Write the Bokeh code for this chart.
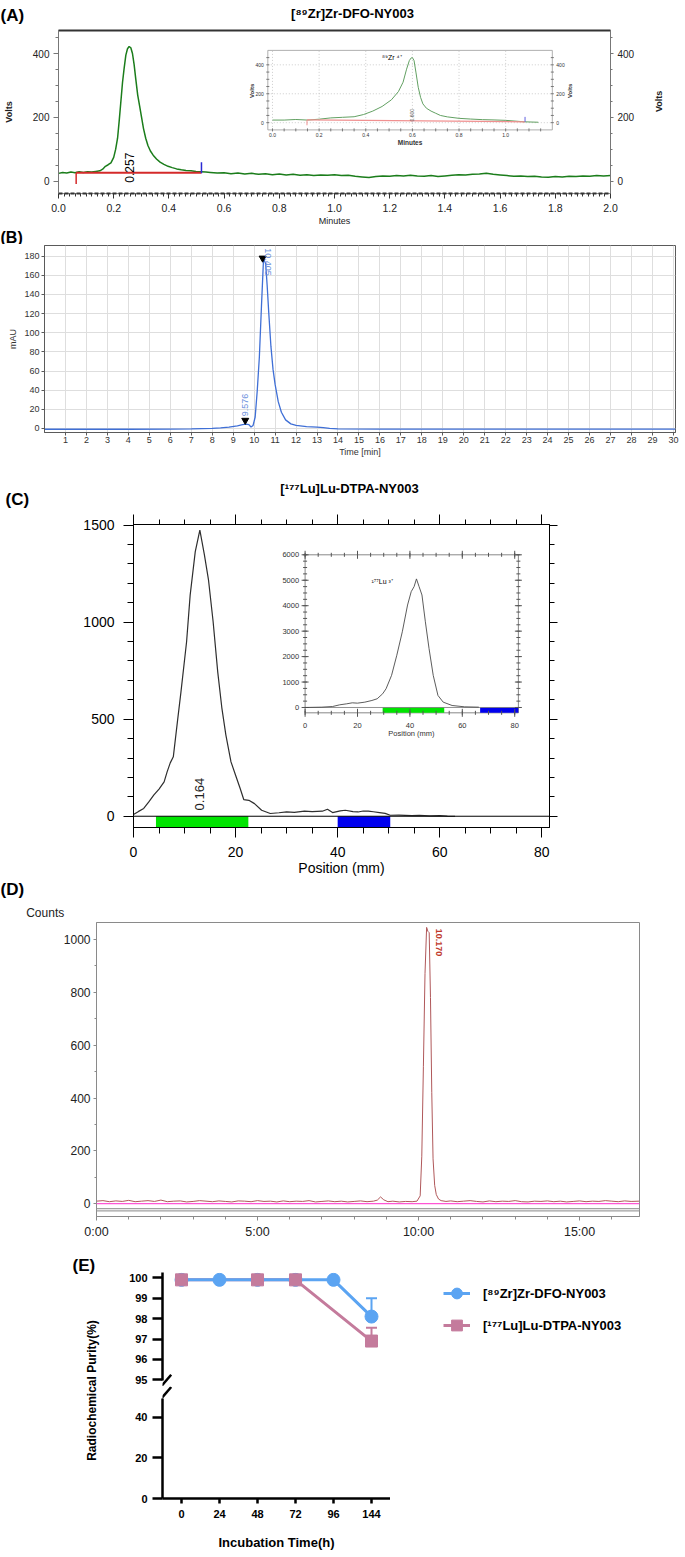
import math
from bokeh.plotting import figure
from bokeh.models import (Range1d, FactorRange, LinearAxis, Label, Span, Legend, LegendItem,
                          FixedTicker, SingleIntervalTicker, NumeralTickFormatter,
                          CustomJSTickFormatter)
from bokeh.layouts import column, row
from bokeh.core.properties import value
from bokeh.embed import file_html
from bokeh.resources import INLINE

# ======================= DATA =======================
# (A) radio-HPLC of [89Zr]Zr-DFO-NY003 (main trace)
a_min = [0.000, 0.015, 0.030, 0.045, 0.060, 0.075, 0.090, 0.105, 0.120, 0.135,
         0.150, 0.160, 0.170, 0.180, 0.190, 0.200, 0.207, 0.214, 0.220, 0.226,
         0.232, 0.238, 0.244, 0.250, 0.256, 0.262, 0.268, 0.274, 0.280, 0.287,
         0.294, 0.301, 0.308, 0.316, 0.324, 0.333, 0.343, 0.355, 0.368, 0.382,
         0.397, 0.412, 0.428, 0.445, 0.462, 0.480, 0.498, 0.516, 0.534,
         0.550, 0.575, 0.600, 0.625, 0.650, 0.675, 0.700, 0.725, 0.750, 0.775,
         0.800, 0.825, 0.850, 0.875, 0.900, 0.925, 0.950, 0.975, 1.000, 1.025,
         1.050, 1.075, 1.100, 1.125, 1.150, 1.175, 1.200, 1.225, 1.250, 1.275,
         1.300, 1.325, 1.350, 1.375, 1.400, 1.425, 1.450, 1.475, 1.500, 1.525,
         1.550, 1.575, 1.600, 1.625, 1.650, 1.675, 1.700, 1.725, 1.750, 1.775,
         1.800, 1.825, 1.850, 1.875, 1.900, 1.925, 1.950, 1.975, 2.000]
a_volts = [25, 28, 26, 29, 27, 30, 28, 30, 29, 31,
           33, 38, 47, 52, 58, 75, 100, 135, 190, 250,
           310, 355, 395, 415, 422, 418, 400, 365, 320, 270,
           235, 200, 165, 135, 112, 95, 82, 70, 60, 53,
           47, 43, 39, 36, 34, 33, 31, 30, 29,
           28, 26, 27, 24, 26, 23, 25, 22, 24, 21,
           23, 20, 22, 19, 21, 18, 20, 19, 21, 18,
           19, 16, 14, 12, 15, 17, 16, 18, 17, 19,
           17, 16, 18, 15, 17, 19, 21, 20, 22, 23,
           25, 22, 20, 18, 16, 17, 15, 16, 14, 13,
           15, 14, 16, 15, 17, 16, 18, 17, 18]
a_peak_pos = 0.259
a_peak_label = "0.257"
a_int_start, a_int_end, a_int_level = 0.064, 0.518, 27

# (A) inset: free 89Zr4+
ai_min = [0.00, 0.05, 0.10, 0.15, 0.20, 0.25, 0.30, 0.35, 0.39, 0.43,
          0.47, 0.51, 0.54, 0.56, 0.575, 0.587, 0.595, 0.600, 0.607, 0.615,
          0.625, 0.635, 0.645, 0.66, 0.68, 0.70, 0.72, 0.75, 0.80, 0.85,
          0.90, 0.95, 1.00, 1.04, 1.08, 1.14]
ai_volts = [18, 18, 22, 18, 24, 33, 37, 41, 56, 80,
            112, 158, 215, 280, 370, 430, 448, 450, 430, 350,
            245, 175, 130, 100, 80, 65, 50, 40, 30, 25,
            21, 19, 16, 11, 6, 3]
ai_peak_pos = 0.600
ai_peak_label = "0.600"
ai_int_start, ai_int_end = 0.148, 1.083
ai_int_levels = (19, 6)
ai_xticks = [0.0, 0.2, 0.4, 0.6, 0.8, 1.0]
ai_xtick_labels = ["0.0", "0.2", "0.4", "0.6", "0.8", "1.0"]
ai_yticks = [0, 200, 400]
ai_ytick_labels = ["0", "200", "400"]

# (B) UV-HPLC
b_min = [0.0, 2.0, 4.0, 6.0, 7.0, 8.0, 8.4, 8.8, 9.2, 9.45,
         9.6, 9.75, 9.85, 9.95, 10.05, 10.15, 10.25, 10.35, 10.45, 10.55,
         10.62, 10.7, 10.8, 10.9, 11.0, 11.15, 11.3, 11.5, 11.75, 12.0,
         12.5, 13.0, 13.3, 13.6, 14.0, 16.0, 20.0, 25.0, 30.1]
b_mau = [-0.8, -0.7, -0.8, -0.7, -0.5, 0.2, 0.7, 1.5, 2.8, 4.0,
         4.6, 4.0, 1.5, 3.2, 12, 40, 75, 128, 178, 172,
         150, 120, 86, 62, 46, 28, 17, 9, 4.8, 3.2,
         2.0, 1.5, 1.0, 0.2, -0.4, -0.6, -0.7, -0.7, -0.7]
b_peak_rt = [9.576, 10.405]
b_peak_h = [8.5, 178]
b_peak_labels = ["9.576", "10.405"]
b_xticks = list(range(1, 31))
b_yticks = [0, 20, 40, 60, 80, 100, 120, 140, 160, 180]

# (C) radio-TLC of [177Lu]Lu-DTPA-NY003
c_mm = [0, 1, 2, 3, 4, 5, 6, 6.6, 7.2, 7.8,
        8.6, 9.3, 10.4, 11.1, 12.1, 13.0, 13.9, 14.7, 15.6, 16.5,
        17.3, 18.1, 19.1, 20.0, 20.9, 21.6, 22.6, 23.7, 25.1, 26.8,
        28.5, 30, 31.5, 33.5, 35, 37, 38, 39, 40.5, 41.5,
        43, 44, 45, 46, 47, 48.2, 49.3, 50.3, 52, 54.5,
        56, 58, 60, 61.5, 63]
c_counts = [9, 25, 40, 74, 110, 140, 177, 230, 275, 306,
            486, 641, 899, 1139, 1363, 1474, 1345, 1216, 1002, 744,
            560, 418, 280, 211, 143, 86, 82, 65, 31, 14,
            18, 22, 20, 26, 24, 26, 36, 19, 28, 31,
            24, 22, 27, 26, 23, 19, 15, 5, 6, 3,
            4, 2, 3, 1, 0]
c_peak_pos = 13.0
c_peak_label = "0.164"
c_strip_lo = [4.4, 40.0]
c_strip_hi = [22.5, 50.3]
c_strip_color = ["#00e400", "#0000ee"]

# (C) inset: free 177Lu3+
ci_mm = [0, 6.4, 10.5, 13.2, 15.9, 18, 20, 22.8, 25.5, 27.5,
         29.6, 30.9, 33, 35, 37.1, 39.1, 40.5, 41.6, 42.5, 43.5,
         44.6, 45.9, 47.3, 48.9, 50.7, 52.7, 56.1, 60.9, 66.3]
ci_counts = [0, 13, 39, 105, 145, 184, 171, 210, 276, 342,
             539, 737, 1263, 2053, 2974, 4026, 4553, 4750, 5053, 4750,
             4421, 3368, 2316, 1263, 474, 211, 79, 26, 13]
ci_strip_lo = [29.6, 66.8]
ci_strip_hi = [53.1, 81.4]
ci_xticks = [0, 20, 40, 60, 80]
ci_xtick_labels = ["0", "20", "40", "60", "80"]
ci_yticks = [0, 1000, 2000, 3000, 4000, 5000, 6000]
ci_ytick_labels = ["0", "1000", "2000", "3000", "4000", "5000", "6000"]

# (D) radio-HPLC of [177Lu]Lu-DTPA-NY003
d_min = [0.0, 0.2, 0.4, 0.6, 0.8, 1.0, 1.2, 1.4, 1.6, 1.8,
         2.0, 2.2, 2.4, 2.6, 2.8, 3.0, 3.2, 3.4, 3.6, 3.8,
         4.0, 4.2, 4.4, 4.6, 4.8, 5.0, 5.2, 5.4, 5.6, 5.8,
         6.0, 6.2, 6.4, 6.6, 6.8, 7.0, 7.2, 7.4, 7.6, 7.8,
         8.0, 8.2, 8.4, 8.6,
         8.72, 8.82, 8.92, 9.05, 9.2, 9.4, 9.6, 9.8, 9.95, 10.05,
         10.1, 10.15, 10.2, 10.25, 10.29, 10.33, 10.37, 10.41, 10.45, 10.5,
         10.55, 10.62, 10.7, 10.85, 11.0,
         11.2, 11.4, 11.6, 11.8, 12.0, 12.2, 12.4, 12.6, 12.8, 13.0,
         13.2, 13.4, 13.6, 13.8, 14.0, 14.2, 14.4, 14.6, 14.8, 15.0,
         15.2, 15.4, 15.6, 15.8, 16.0, 16.2, 16.4, 16.6,
         16.85]
d_counts = [10, 12, 8, 11, 9, 13, 8, 10, 12, 9,
            14, 8, 10, 11, 7, 9, 12, 10, 8, 11,
            9, 7, 11, 10, 8, 12, 9, 10, 7, 11,
            8, 10, 9, 12, 7, 9, 11, 8, 10, 7,
            9, 11, 8, 10,
            14, 26, 15, 8, 10, 7, 9, 8, 10, 30,
            180, 520, 870, 1045, 1030, 1025, 780, 420, 170, 70,
            35, 18, 12, 9, 11,
            8, 10, 12, 9, 7, 11, 8, 10, 9, 12,
            8, 7, 10, 9, 11, 8, 10, 7, 9, 11,
            8, 10, 9, 12, 10, 8, 11, 9,
            10]
d_peak_time = 10.27
d_peak_height = 1040
d_peak_label = "10.170"
d_xticks = [0, 5, 10, 15]
d_xtick_labels = ["0:00", "5:00", "10:00", "15:00"]
d_baseline = 1
d_ref_lines = [-18, -27]

# (E) stability
e_hours = ["0", "24", "48", "72", "96", "144"]
zr_purity = [99.9, 99.9, 99.9, 99.9, 99.9, 98.1]
zr_err = [0, 0, 0, 0, 0, 0.9]
lu_hours = ["0", "48", "72", "144"]
lu_purity = [99.9, 99.9, 99.9, 96.9]
lu_err = [0, 0, 0, 0.65]
e_upper_ticks = [95, 96, 97, 98, 99, 100]
e_lower_ticks = [0, 20, 40]
e_upper_bounds = (94.97, 100.26)
e_lower_bounds = (0, 49.3)
zr_name = "[\u2078\u2079Zr]Zr-DFO-NY003"
lu_name = "[\u00b9\u2077\u2077Lu]Lu-DTPA-NY003"

# ======================= HELPERS =======================
FONT = "Liberation Sans"
W = 685
ZR = "#5ba4f2"
LU = "#c47b9c"


def sub_range(lo, hi, f0, f1):
    span = (hi - lo) / (f1 - f0)
    start = lo - f0 * span
    return Range1d(start=start, end=start + span)


def new_fig(w, h, xr, yr, l, r, t, b, **kw):
    p = figure(width=w, height=h, x_range=xr, y_range=yr,
               min_border_left=l, min_border_right=r, min_border_top=t, min_border_bottom=b,
               toolbar_location=None, output_backend="svg", title=None, **kw)
    p.grid.visible = False
    p.background_fill_color = "white"
    p.border_fill_color = "white"
    return p


def header(w, h):
    p = new_fig(w, h, Range1d(0, 1), Range1d(0, 1), 0, 0, 0, 0,
                x_axis_location=None, y_axis_location=None)
    p.outline_line_color = None
    return p


def style_axis(ax, size, color="#222222", bold=False, tick_out=4, minor_out=2, standoff=4,
               line_color="#222222", line_width=1.0):
    ax.major_label_text_font = FONT
    ax.major_label_text_font_size = f"{size}px"
    ax.major_label_text_color = color
    ax.major_label_text_font_style = "bold" if bold else "normal"
    ax.major_tick_out = tick_out
    ax.major_tick_in = 0
    ax.minor_tick_out = minor_out
    ax.minor_tick_in = 0
    ax.major_label_standoff = standoff
    ax.axis_line_color = line_color
    ax.axis_line_width = line_width
    ax.major_tick_line_color = line_color
    ax.minor_tick_line_color = line_color
    ax.major_tick_line_width = line_width
    ax.minor_tick_line_width = min(line_width, 1.0)


def axis_title(ax, text, size, standoff, bold=False, color="#222222"):
    ax.axis_label = text
    ax.axis_label_text_font = FONT
    ax.axis_label_text_font_size = f"{size}px"
    ax.axis_label_text_font_style = "bold" if bold else "normal"
    ax.axis_label_text_color = color
    ax.axis_label_standoff = standoff


def blank_axis(ticker, tick_out, minor_out, color="#222222", width=1.0):
    ax = LinearAxis(ticker=ticker, formatter=CustomJSTickFormatter(code="return ''"))
    ax.major_tick_out = tick_out
    ax.major_tick_in = 0
    ax.minor_tick_out = minor_out
    ax.minor_tick_in = 0
    ax.major_label_standoff = 0
    ax.major_label_text_font_size = "1px"
    ax.axis_line_color = color
    ax.axis_line_width = width
    ax.major_tick_line_color = color
    ax.minor_tick_line_color = color
    return ax


def put(p, geo, text, lx, ly, size, bold=False, color="black", align="left",
        baseline="middle", angle=0.0):
    l, b, h = geo
    p.add_layout(Label(x=lx - l, y=(h - b) - ly, x_units="screen", y_units="screen",
                       text=text, text_font=FONT, text_font_size=f"{size}px",
                       text_font_style="bold" if bold else "normal", text_color=color,
                       text_align=align, text_baseline=baseline, angle=angle))


def txt(p, x, y, text, size, color="black", align="left", baseline="middle", angle=0.0,
        bold=False, xo=0, yo=0, **kw):
    p.text(x=x, y=y, text=text, text_font=value(FONT), text_font_size=f"{size}px",
           text_color=color, text_align=align, text_baseline=baseline, angle=angle,
           text_font_style="bold" if bold else "normal", x_offset=xo, y_offset=yo, **kw)


# ======================= PANEL A =======================
hA = header(W, 28)
put(hA, (0, 0, 28), "(A)", 0, 15, 17, bold=True)
put(hA, (0, 0, 28), "[\u2078\u2079Zr]Zr-DFO-NY003", 352, 13, 13, bold=True, align="center")

HA = 200
pA = new_fig(W, HA, Range1d(0, 2.0), Range1d(-38, 472), 57, 75, 2, 34)
pA.outline_line_color = "#8c8c8c"
ax = pA.xaxis[0]
ax.ticker = SingleIntervalTicker(interval=0.2, num_minor_ticks=10)
ax.formatter = NumeralTickFormatter(format="0.0")
style_axis(ax, 10.5, tick_out=5, minor_out=3, standoff=5, line_color="#333333")
ax.axis_line_width = 2
ax.axis_line_dash = "4 2"
axis_title(ax, "Minutes", 9, 1)
ay = pA.yaxis[0]
ay.ticker = SingleIntervalTicker(interval=200, num_minor_ticks=4)
style_axis(ay, 10, tick_out=5, minor_out=3, standoff=4, line_color="#777777")
axis_title(ay, "Volts", 9, 16, bold=True)
ar = LinearAxis(ticker=SingleIntervalTicker(interval=200, num_minor_ticks=4))
style_axis(ar, 10, tick_out=3, minor_out=2, standoff=4, line_color="#777777")
axis_title(ar, "Volts", 9, 22, bold=True)
try:
    ar.axis_label_orientation = math.pi / 2
except Exception:
    pass
pA.add_layout(ar, "right")
pA.add_layout(blank_axis(SingleIntervalTicker(interval=0.2), 0, 0, "#333333", 2), "above")

pA.line(a_min, a_volts, line_color="#1b7d1b", line_width=1.5)
pA.segment(x0=[a_int_start], y0=[a_int_level], x1=[a_int_end], y1=[a_int_level],
           line_color="#d42a2a", line_width=1.8)
pA.segment(x0=[a_int_start], y0=[a_int_level], x1=[a_int_start], y1=[a_int_level - 35],
           line_color="#d42a2a", line_width=1.5)
pA.segment(x0=[a_int_end], y0=[a_int_level - 2], x1=[a_int_end], y1=[a_int_level + 33],
           line_color="#2a2ad4", line_width=1.5)
txt(pA, [a_peak_pos], [-4], [a_peak_label], 12, angle=math.pi / 2)

# inset A
AI_X0, AI_X1, AI_Y0, AI_Y1 = -0.02, 1.2, -50, 500
pA.extra_x_ranges = {"iax": sub_range(AI_X0, AI_X1, 0.3792, 0.8946)}
pA.extra_y_ranges = {"iay": sub_range(AI_Y0, AI_Y1, 0.3902, 0.8780)}
ik = dict(x_range_name="iax", y_range_name="iay")
pA.quad(left=[AI_X0], right=[AI_X1], bottom=[AI_Y0], top=[AI_Y1], fill_color="white",
        line_color="#9a9a9a", line_width=0.8, **ik)
pA.segment(x0=ai_xticks, y0=AI_Y0, x1=ai_xticks, y1=AI_Y1, line_color="#c2c2c2",
           line_dash="1 2", line_width=0.8, **ik)
pA.segment(x0=AI_X0, y0=ai_yticks, x1=AI_X1, y1=ai_yticks, line_color="#c2c2c2",
           line_dash="1 2", line_width=0.8, **ik)
ai_xminor = [i * 0.05 for i in range(24)]
ai_yminor = [i * 50 for i in range(10)]
pA.scatter(ai_xminor, [AI_Y0] * len(ai_xminor), marker="dash", size=3,
           angle=math.pi / 2, line_color="#777777", **ik)
pA.scatter([AI_X0] * len(ai_yminor), ai_yminor, marker="dash", size=3, line_color="#777777", **ik)
pA.scatter([AI_X1] * len(ai_yminor), ai_yminor, marker="dash", size=3, line_color="#777777", **ik)
txt(pA, [AI_X0] * 3, ai_yticks, ai_ytick_labels, 5, color="#333333", align="right", xo=-4, **ik)
txt(pA, [AI_X1] * 3, ai_yticks, ai_ytick_labels, 5, color="#333333", align="left", xo=4, **ik)
txt(pA, ai_xticks, [AI_Y0] * 6, ai_xtick_labels, 5, color="#333333", align="center", yo=5, **ik)
txt(pA, [0.59], [AI_Y0], ["Minutes"], 6.5, color="#333333", align="center", yo=13, bold=True, **ik)
txt(pA, [AI_X0], [220], ["Volts"], 6, color="#333333", align="center", angle=math.pi / 2,
    xo=-16, bold=True, **ik)
txt(pA, [AI_X1], [220], ["Volts"], 6, color="#333333", align="center", angle=math.pi / 2,
    xo=18, bold=True, **ik)
pA.line(ai_min, ai_volts, line_color="#62a062", line_width=1, **ik)
pA.segment(x0=[ai_int_start], y0=[ai_int_levels[0]], x1=[ai_int_end], y1=[ai_int_levels[1]],
           line_color="#f09090", line_width=1.2, **ik)
pA.segment(x0=[ai_int_start], y0=[ai_int_levels[0]], x1=[ai_int_start], y1=[-18],
           line_color="#f09090", line_width=1, **ik)
pA.segment(x0=[ai_int_end], y0=[ai_int_levels[1]], x1=[ai_int_end], y1=[40],
           line_color="#6060e0", line_width=1, **ik)
txt(pA, [ai_peak_pos], [8], [ai_peak_label], 5, color="#555555", angle=math.pi / 2, **ik)
txt(pA, [0.47], [453], ["\u2078\u2079Zr \u2074\u207a"], 7, **ik)

# ======================= PANEL B =======================
hB = header(W, 16)
put(hB, (0, 0, 16), "(B)", 0, 8.5, 16, bold=True)

HB = 216
pB = new_fig(W, HB, Range1d(0, 30.1), Range1d(-4.2, 191.2), 44, 10, 1, 28)
pB.outline_line_color = "#5a5a5a"
bxt = FixedTicker(ticks=b_xticks)
byt = FixedTicker(ticks=b_yticks)
pB.xaxis[0].ticker = bxt
pB.yaxis[0].ticker = byt
pB.xgrid.ticker = bxt
pB.ygrid.ticker = byt
pB.grid.visible = True
pB.grid.grid_line_color = "#dedede"
pB.grid.grid_line_width = 1
style_axis(pB.xaxis[0], 9, color="#333333", tick_out=3, minor_out=0, standoff=1,
           line_color="#5a5a5a")
axis_title(pB.xaxis[0], "Time [min]", 9, 1, color="#333333")
style_axis(pB.yaxis[0], 9, color="#333333", tick_out=3, minor_out=0, standoff=2,
           line_color="#5a5a5a")
axis_title(pB.yaxis[0], "mAU", 9, 3, color="#333333")
pB.line(b_min, b_mau, line_color="#3f6fd6", line_width=1.3)
pB.scatter(b_peak_rt, b_peak_h, marker="inverted_triangle", size=7, fill_color="black",
           line_color="black")
txt(pB, [b_peak_rt[0]], [b_peak_h[0]], [b_peak_labels[0]], 9, color="#6b8fdc",
    angle=math.pi / 2, yo=-4)
txt(pB, [b_peak_rt[1]], [b_peak_h[1]], [b_peak_labels[1]], 9, color="#6b8fdc",
    angle=-math.pi / 2, xo=5, yo=-10)

# ======================= PANEL C =======================
hC = header(W, 50)
put(hC, (0, 0, 50), "[\u00b9\u2077\u2077Lu]Lu-DTPA-NY003", 349, 28, 13, bold=True, align="center")
put(hC, (0, 0, 50), "(C)", 5, 38.5, 17, bold=True)

HC = 370
pC = new_fig(W, HC, Range1d(0, 81.5), Range1d(-58, 1503), 133, 136, 14, 53)
pC.outline_line_color = "black"
cx = pC.xaxis[0]
cx.ticker = SingleIntervalTicker(interval=20, num_minor_ticks=4)
style_axis(cx, 14, color="black", tick_out=10, minor_out=6, standoff=9, line_color="black")
axis_title(cx, "Position (mm)", 14, 0, color="black")
cy = pC.yaxis[0]
cy.ticker = SingleIntervalTicker(interval=500, num_minor_ticks=5)
style_axis(cy, 14, color="black", tick_out=10, minor_out=6, standoff=9, line_color="black")
pC.add_layout(blank_axis(SingleIntervalTicker(interval=20, num_minor_ticks=4), 10, 5, "black"),
              "above")
pC.add_layout(blank_axis(SingleIntervalTicker(interval=500, num_minor_ticks=5), 8, 5, "black"),
              "right")
pC.quad(left=c_strip_lo, right=c_strip_hi, bottom=-58, top=0, fill_color=c_strip_color,
        line_color=None)
pC.add_layout(Span(location=0, dimension="width", line_color="black", line_width=1))
pC.line(c_mm, c_counts, line_color="#2e2e2e", line_width=1.2)
txt(pC, [c_peak_pos], [30], [c_peak_label], 13, color="#222222", angle=math.pi / 2)

# inset C
CI_X0, CI_X1, CI_Y0, CI_Y1 = 0, 81.4, -209, 6000
pC.extra_x_ranges = {"icx": sub_range(CI_X0, CI_X1, 0.4125, 0.9252)}
pC.extra_y_ranges = {"icy": sub_range(CI_Y0, CI_Y1, 0.3785, 0.9000)}
jk = dict(x_range_name="icx", y_range_name="icy")
pC.quad(left=[CI_X0], right=[CI_X1], bottom=[CI_Y0], top=[CI_Y1], fill_color="white",
        line_color="#6a6a6a", line_width=0.8, **jk)
pC.quad(left=ci_strip_lo, right=ci_strip_hi, bottom=CI_Y0, top=0, fill_color=c_strip_color,
        line_color=None, **jk)
pC.segment(x0=[CI_X0], y0=[0], x1=[CI_X1], y1=[0], line_color="#777777", line_width=0.8, **jk)
ci_xminor = [i * 5 for i in range(17)]
ci_yminor = [i * 250 for i in range(25)]
for yy in (CI_Y0, CI_Y1):
    pC.scatter(ci_xminor, [yy] * len(ci_xminor), marker="dash", size=4, angle=math.pi / 2,
               line_color="#555555", **jk)
    pC.scatter(ci_xticks, [yy] * len(ci_xticks), marker="dash", size=8, angle=math.pi / 2,
               line_color="#555555", **jk)
for xx in (CI_X0, CI_X1):
    pC.scatter([xx] * len(ci_yminor), ci_yminor, marker="dash", size=4, line_color="#555555", **jk)
    pC.scatter([xx] * len(ci_yticks), ci_yticks, marker="dash", size=7, line_color="#555555", **jk)
txt(pC, [CI_X0] * 7, ci_yticks, ci_ytick_labels, 7.5, color="#333333", align="right", xo=-6, **jk)
txt(pC, ci_xticks, [CI_Y0] * 5, ci_xtick_labels, 7.5, color="#333333", align="center", yo=13, **jk)
txt(pC, [40.6], [CI_Y0], ["Position (mm)"], 7.5, color="#333333", align="center", yo=21, **jk)
pC.line(ci_mm, ci_counts, line_color="#4a4a4a", line_width=0.9, **jk)
txt(pC, [25.3], [4950], ["\u00b9\u2077\u2077Lu \u00b3\u207a"], 7, **jk)

# ======================= PANEL D =======================
hD = header(W, 41)
put(hD, (0, 0, 41), "(D)", 0, 9, 17, bold=True)
put(hD, (0, 0, 41), "Counts", 25.7, 32.5, 12, color="#222222")

HD = 329
pD = new_fig(W, HD, Range1d(0, 16.86), Range1d(-48, 1063.5), 96, 46, 1, 34)
pD.outline_line_color = "#8a8a8a"
dx = pD.xaxis[0]
dx.ticker = SingleIntervalTicker(interval=5, num_minor_ticks=5)
dx.major_label_overrides = {t: s for t, s in zip(d_xticks, d_xtick_labels)}
style_axis(dx, 12.5, color="#222222", tick_out=4, minor_out=3, standoff=4, line_color="#8a8a8a")
dy = pD.yaxis[0]
dy.ticker = SingleIntervalTicker(interval=200, num_minor_ticks=2)
style_axis(dy, 12, color="#222222", tick_out=3, minor_out=2, standoff=3, line_color="#8a8a8a")
for loc in d_ref_lines:
    pD.add_layout(Span(location=loc, dimension="width", line_color="#a0a0a0", line_width=1.2))
pD.add_layout(Span(location=d_baseline, dimension="width", line_color="#ff55d5", line_width=1.2))
pD.line(d_min, d_counts, line_color="#b0585a", line_width=1)
txt(pD, [d_peak_time], [d_peak_height], [d_peak_label], 9, color="#c0392b", bold=True,
    angle=-math.pi / 2, xo=12)

# ======================= PANEL E =======================
HEU, HEL = 136, 171
HE = HEU + HEL
WT, WP, WLG = 108, 282, 295
e_x = FactorRange(*e_hours)

pEu = new_fig(WP, HEU, e_x, Range1d(94.672, 100.26), 54, 0, 22, 0, x_axis_location=None)
pEu.outline_line_color = None
eya = pEu.yaxis[0]
eya.ticker = FixedTicker(ticks=e_upper_ticks)
eya.bounds = e_upper_bounds
style_axis(eya, 11, color="black", bold=True, tick_out=10, minor_out=0, standoff=5,
           line_color="black", line_width=2.5)

pEu.line(lu_hours, lu_purity, line_color=LU, line_width=3)
pEu.line(e_hours, zr_purity, line_color=ZR, line_width=3)
zr_top = [v + e for v, e in zip(zr_purity, zr_err)]
lu_top = [v + e for v, e in zip(lu_purity, lu_err)]
pEu.segment(x0=e_hours, y0=zr_purity, x1=e_hours, y1=zr_top, line_color=ZR, line_width=2)
pEu.scatter([h for h, e in zip(e_hours, zr_err) if e > 0],
            [t for t, e in zip(zr_top, zr_err) if e > 0],
            marker="dash", size=11, line_color=ZR, line_width=2)
pEu.scatter(e_hours, zr_purity, marker="circle", size=13, fill_color=ZR, line_color=ZR)
pEu.segment(x0=lu_hours, y0=lu_purity, x1=lu_hours, y1=lu_top, line_color=LU, line_width=2)
pEu.scatter([h for h, e in zip(lu_hours, lu_err) if e > 0],
            [t for t, e in zip(lu_top, lu_err) if e > 0],
            marker="dash", size=11, line_color=LU, line_width=2)
pEu.scatter(lu_hours, lu_purity, marker="square", size=12, fill_color=LU, line_color=LU)
# axis-break mark at the lower end of the upper axis segment
pEu.scatter(x=[0.1], y=[e_upper_bounds[0]], marker="dash", size=15, angle=0.86,
            line_color="black", line_width=2.5)

pEl = new_fig(WP, HEL, e_x, Range1d(0, 55.04), 54, 0, 0, 59)
pEl.outline_line_color = None
exa = pEl.xaxis[0]
style_axis(exa, 11, color="black", bold=True, tick_out=5, minor_out=0, standoff=6,
           line_color="black", line_width=2.5)
axis_title(exa, "Incubation Time(h)", 13, 14, bold=True, color="black")
eyl = pEl.yaxis[0]
eyl.ticker = FixedTicker(ticks=e_lower_ticks)
eyl.bounds = e_lower_bounds
style_axis(eyl, 11, color="black", bold=True, tick_out=10, minor_out=0, standoff=5,
           line_color="black", line_width=2.5)
# axis-break mark above the upper end of the lower axis segment
pEl.scatter(x=[0.1], y=[e_lower_bounds[1] + 2.7], marker="dash", size=15, angle=0.86,
            line_color="black", line_width=2.5)

pEt = header(WT, HE)
put(pEt, (0, 0, HE), "(E)", 72, 15, 17, bold=True)
put(pEt, (0, 0, HE), "Radiochemical Purity(%)", 91.7, 140, 12, bold=True, align="center",
    angle=math.pi / 2)

# legend panel: proxies carry the series styling (their points lie outside this panel's view)
pLg = header(WLG, HE)
g_zl = pLg.line(x=zr_purity, y=zr_purity, line_color=ZR, line_width=3)
g_zm = pLg.scatter(x=zr_purity, y=zr_purity, marker="circle", size=13, fill_color=ZR,
                   line_color=ZR)
g_ll = pLg.line(x=lu_purity, y=lu_purity, line_color=LU, line_width=3)
g_lm = pLg.scatter(x=lu_purity, y=lu_purity, marker="square", size=12, fill_color=LU,
                   line_color=LU)
leg = Legend(items=[LegendItem(label=zr_name, renderers=[g_zl, g_zm]),
                    LegendItem(label=lu_name, renderers=[g_ll, g_lm])],
             location=(53, 217), orientation="vertical", padding=0, margin=0, spacing=2,
             glyph_width=27, glyph_height=30, label_standoff=13,
             border_line_color=None, background_fill_alpha=0,
             label_text_font=FONT, label_text_font_size="13px",
             label_text_font_style="bold", label_text_color="black")
pLg.add_layout(leg)

layout = column(row(hA), row(pA), row(hB), row(pB), row(hC), row(pC), row(hD), row(pD),
                row(row(pEt), column(row(pEu), row(pEl)), row(pLg)))
open("out.html", "w").write(file_html(layout, INLINE, title="Figure"))
